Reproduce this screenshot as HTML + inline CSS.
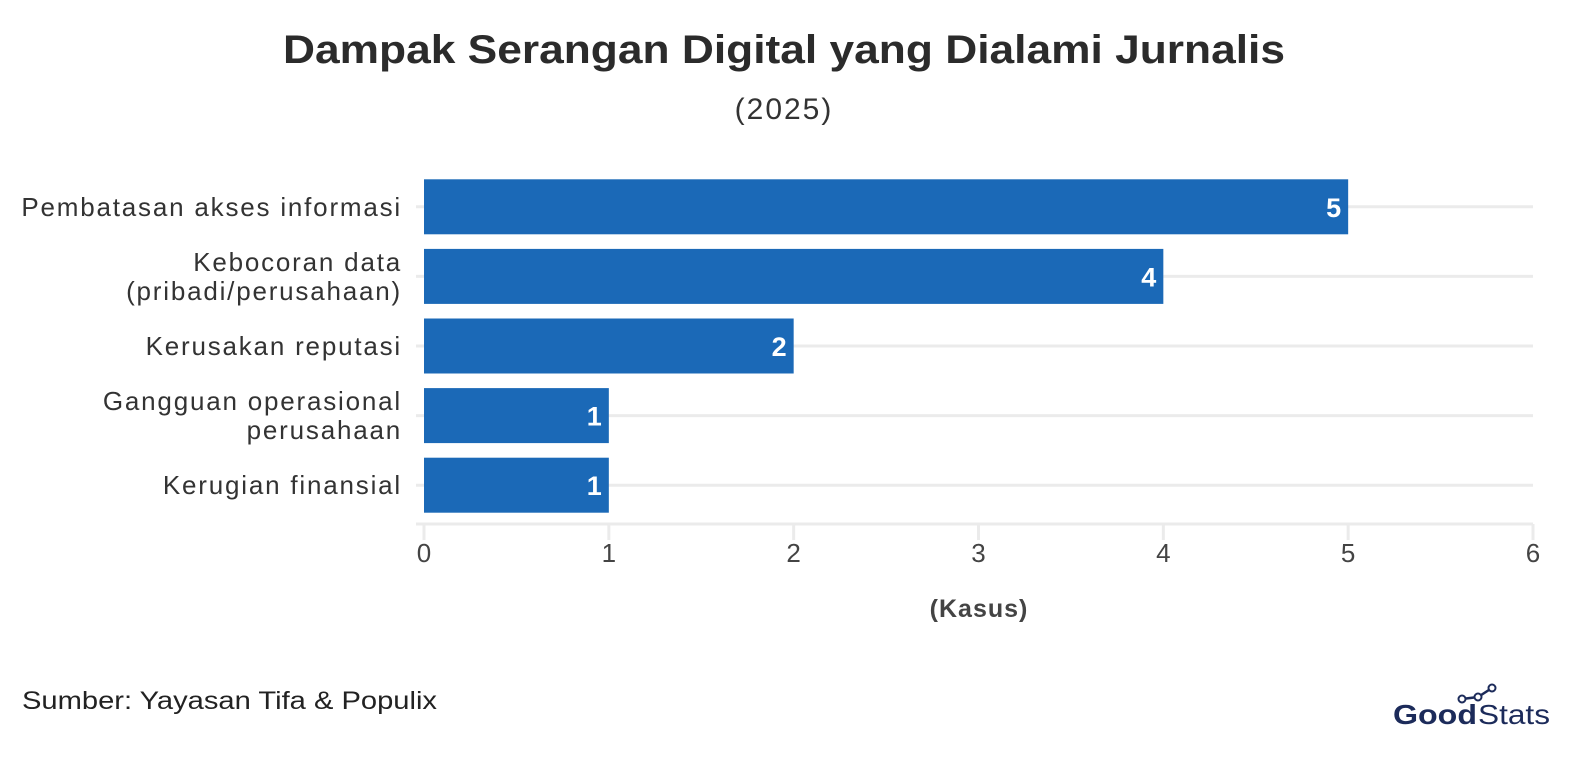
<!DOCTYPE html>
<html><head><meta charset="utf-8"><style>
body{margin:0;background:#fff;width:1588px;height:754px;overflow:hidden;font-family:"Liberation Sans",sans-serif}
</style></head><body>
<svg id="chart" width="1588" height="754" xmlns="http://www.w3.org/2000/svg" font-family="Liberation Sans, sans-serif">
<text x="283" y="63" textLength="1002" lengthAdjust="spacingAndGlyphs" font-size="40" font-weight="bold" fill="#2b2b2b">Dampak Serangan Digital yang Dialami Jurnalis</text>
<text x="784" y="119" text-anchor="middle" font-size="30" letter-spacing="2" fill="#333">(2025)</text>
<g id="grid"></g><g id="bars"></g><g id="xaxis"></g><g id="yaxis"></g>
<text x="979" y="617" text-anchor="middle" font-size="25" letter-spacing="1" font-weight="bold" fill="#444">(Kasus)</text>
<text x="22" y="709" textLength="415" lengthAdjust="spacingAndGlyphs" font-size="25" fill="#222">Sumber: Yayasan Tifa &amp; Populix</text>
<g>
<polyline points="1462,699 1478,697 1492,688" fill="none" stroke="#1c2b5a" stroke-width="2.5"/>
<circle cx="1462" cy="699" r="3.5" fill="#fff" stroke="#1c2b5a" stroke-width="2"/>
<circle cx="1478" cy="697" r="3.5" fill="#fff" stroke="#1c2b5a" stroke-width="2"/>
<circle cx="1492" cy="688" r="3.5" fill="#fff" stroke="#1c2b5a" stroke-width="2"/>
<text x="1393" y="724" textLength="84" lengthAdjust="spacingAndGlyphs" font-size="28" font-weight="bold" fill="#1c2b5a">Good</text>
<text x="1478" y="724" textLength="72" lengthAdjust="spacingAndGlyphs" font-size="28" fill="#1c2b5a">Stats</text>
</g>
</svg>
<script>
const categories=["Pembatasan akses informasi",["Kebocoran data","(pribadi/perusahaan)"],"Kerusakan reputasi",["Gangguan operasional","perusahaan"],"Kerugian finansial"];
const values=[5,4,2,1,1];
const ticks=[0,1,2,3,4,5,6];
const NS="http://www.w3.org/2000/svg";
const x0=424,x1=1533,xmax=6,top0=172,band=69.6,bh=55;
const xs=v=>x0+(x1-x0)*v/xmax;
const yc=i=>top0+band*i+band/2;
function mk(t,a,p){const e=document.createElementNS(NS,t);for(const k in a)e.setAttribute(k,a[k]);p.appendChild(e);return e;}
const grid=document.getElementById('grid'),bars=document.getElementById('bars'),xa=document.getElementById('xaxis'),ya=document.getElementById('yaxis');
values.forEach((v,i)=>{
 const g=mk('line',{x1:416,x2:x1,y1:yc(i),y2:yc(i),stroke:'#ebebeb','stroke-width':3},grid);
 
 
 const r=mk('rect',{x:x0,y:yc(i)-bh/2,width:xs(v)-x0,height:bh,fill:'#1b69b7'},bars);
 
 
 const t=mk('text',{x:xs(v)-7,y:yc(i)+10,'text-anchor':'end','font-size':27,'font-weight':'bold',fill:'#fff'},bars);
 t.textContent=v;
 
 
 const c=categories[i],lines=Array.isArray(c)?c:[c];
 lines.forEach((s,j)=>{
  const l=mk('text',{x:402,y:yc(i)+9+(j-(lines.length-1)/2)*29,'text-anchor':'end','font-size':26,'letter-spacing':1.8,fill:'#333'},ya);
  l.textContent=s;
  
  
 });
});
const ax=mk('line',{x1:416,x2:x1,y1:524,y2:524,stroke:'#ebebeb','stroke-width':3},xa);


ticks.forEach(t=>{
 const tk=mk('line',{x1:xs(t),x2:xs(t),y1:524,y2:540,stroke:'#ebebeb','stroke-width':3},xa);
 
 
 const l=mk('text',{x:xs(t),y:562,'text-anchor':'middle','font-size':26,fill:'#444'},xa);
 l.textContent=t;
 
 
});
</script>
</body></html>
